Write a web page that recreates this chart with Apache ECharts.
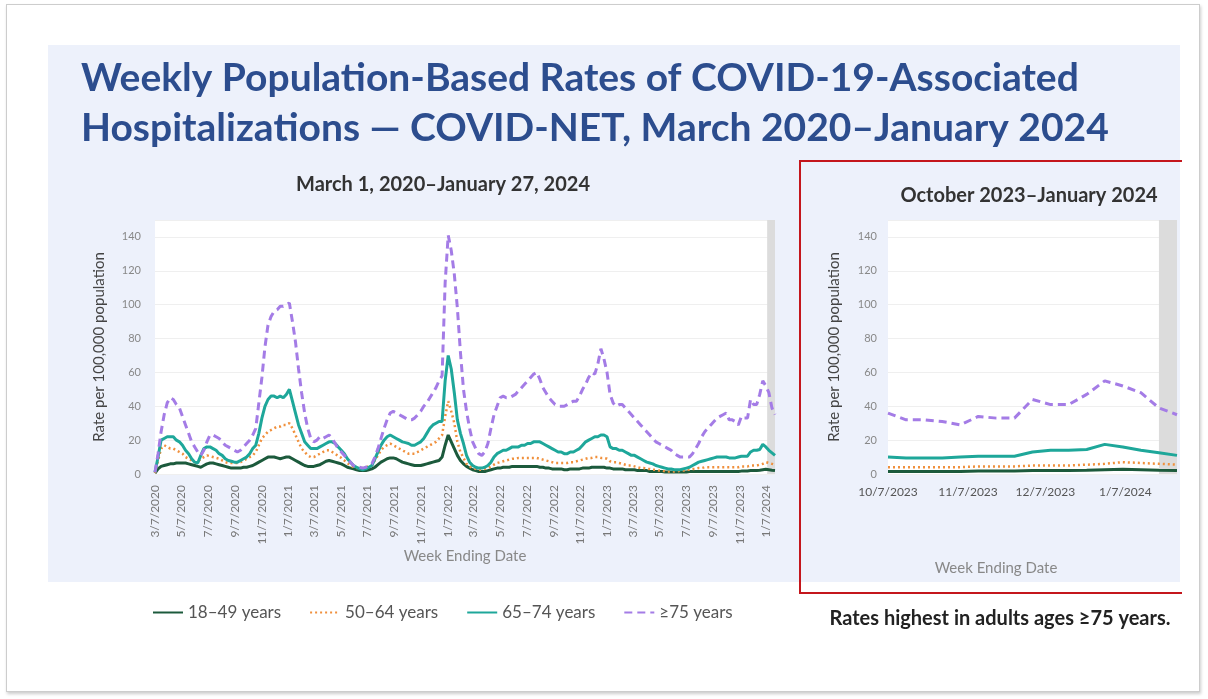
<!DOCTYPE html>
<html>
<head>
<meta charset="utf-8">
<script src="https://cdn.jsdelivr.net/npm/echarts@6/dist/echarts.min.js"></script>
<style>
html, body { margin: 0; padding: 0; background: #fff; }
#frame { position: absolute; left: 6px; top: 4px; width: 1192px; height: 686px; border: 1px solid #cdcdcd; box-shadow: 1px 2px 3px rgba(0,0,0,0.2); }
#panel { position: absolute; left: 48px; top: 45px; width: 1132px; height: 537px; background: #edf1fb; }
#redbox { position: absolute; left: 799px; top: 160px; width: 381px; height: 430px; border: 2.5px solid #c4161c; border-right: none; }
#chart { position: absolute; left: 0; top: 0; width: 1208px; height: 699px; }
</style>
</head>
<body>
<div id="frame"></div>
<div id="panel"></div>
<div id="redbox"></div>
<div id="chart"></div>
<script>
// weekly rates per 100,000, week ending 3/7/2020 ... 1/27/2024 (204 weeks)
var firstWeek = '2020-03-07';
var zoomStart = '2023-10-07';
var names = ['18–49 years', '50–64 years', '65–74 years', '≥75 years'];
var colors = ['#1c5a3c', '#f0903c', '#1ea79a', '#a47ce6'];

var rate18to49 = [
  0.5, 3, 4.5, 5, 5.5, 6, 6, 6.5, 6.5, 6.5,
  6.5, 6, 5.5, 5, 4.5, 4, 5, 6, 6.5, 6.5,
  6, 5.5, 5, 4.5, 4, 3.5, 3.5, 3.5, 3.5, 4,
  4, 4.5, 5, 6, 7, 8, 9, 10, 10, 10,
  9.5, 9, 9.5, 10, 10, 9, 8, 7, 6, 5,
  4.5, 4.5, 4.5, 5, 5.5, 6.5, 7.5, 8, 7.5, 7,
  6.5, 6, 5, 4, 3.5, 3, 2.5, 2, 2, 2,
  2.5, 3, 4, 5.5, 7, 8, 9, 9.5, 9.5, 9,
  8, 7, 6.5, 6, 5.5, 5, 5, 5, 5.5, 6,
  6.5, 7, 7.5, 8, 10, 17, 23, 19, 15, 11,
  8, 6, 4.5, 3.5, 2.5, 2, 1.5, 1.5, 1.5, 2,
  2.5, 3, 3.5, 3.5, 4, 4, 4, 4.5, 4.5, 4.5,
  4.5, 4.5, 4.5, 4.5, 4.5, 4.5, 4, 4, 3.5, 3.5,
  3, 3, 3, 3, 2.5, 2.5, 3, 3, 3, 3,
  3.5, 3.5, 3.5, 4, 4, 4, 4, 4, 3.5, 3.5,
  3, 3, 3, 3, 2.5, 2.5, 2.5, 2.5, 2, 2,
  2, 2, 1.5, 1.5, 1.5, 1.5, 1.5, 1.2, 1.2, 1.2,
  1.2, 1.2, 1.2, 1.2, 1.2, 1.5, 1.5, 1.5, 1.5, 1.5,
  1.5, 1.5, 1.5, 1.5, 1.5, 1.5, 1.5, 1.5, 1.5, 1.5,
  1.5, 1.5, 1.7, 1.7, 1.8, 2, 2, 2, 2.2, 2.5,
  2.8, 2.5, 2.2, 2
];
var rate50to64 = [
  0.5, 8, 15, 17, 16, 15, 15, 14, 13, 12,
  10, 9, 8, 7, 7, 9, 10, 11, 10.5, 10,
  9.5, 9, 8, 7, 6.5, 6.5, 6.5, 6.5, 7, 8,
  9, 10, 11, 13, 17, 21, 23, 25, 26, 27,
  28, 28, 29, 29, 30, 27, 23, 19, 15, 13,
  11, 10, 10, 11, 12, 13, 14, 14, 13, 12,
  10.5, 9.5, 8, 6.5, 5, 4, 3.5, 3.5, 3.5, 4,
  4.5, 5, 8, 11, 14, 16, 17, 18, 17, 16,
  15, 14, 13, 12, 12, 12, 13, 14, 15, 16,
  17, 18, 19, 21, 23, 34, 43, 37, 30, 19,
  13, 9.5, 6, 4.5, 3.5, 3, 2.5, 2.5, 3, 3.5,
  4.5, 5.5, 6.5, 7, 7.5, 8, 8.5, 9, 9, 9.5,
  9.5, 9.5, 9.5, 9.5, 9.5, 9.5, 9, 8.5, 8, 7.5,
  7, 6.5, 6.5, 6.5, 6.5, 6.5, 7, 7, 7.5, 8,
  8.5, 9, 9.5, 9.5, 10, 10, 9.5, 9.5, 9, 7.5,
  7, 7, 6.5, 6, 5.5, 5, 5, 4.5, 4, 3.5,
  3.5, 3, 3, 2.5, 2.5, 2, 2, 1.5, 1.5, 1.5,
  1.5, 1.5, 2, 2, 2.5, 2.5, 3, 3, 3.5, 3.5,
  4, 4, 4, 4, 4, 4, 4, 4, 4, 4,
  4, 4, 4.5, 4.5, 4.5, 5, 5, 5, 5.5, 6,
  7, 6.5, 6, 5.5
];
var rate65to74 = [
  1, 10, 20, 21, 22, 22, 22, 20, 19, 17,
  14, 12, 9, 7, 6.5, 11, 15, 16, 16, 15,
  14, 12, 11, 9, 8, 7.5, 7, 7, 8, 9,
  10, 12, 15, 17, 24, 33, 40, 44, 46, 46,
  45, 46, 45, 47, 50, 43, 36, 29, 24, 19,
  17, 15, 15, 15, 16, 17, 18, 19, 19, 18,
  16, 14, 12, 9, 7, 5, 4, 3, 2.5, 3,
  4, 5, 9, 13, 17, 20, 22, 23, 22, 21,
  20, 19, 18.5, 18, 17, 17, 18, 19, 21, 24,
  27, 29, 30, 31, 31, 55, 70, 62, 48, 32,
  24, 18, 11, 7, 5, 4, 3.5, 3.5, 4, 5,
  7, 10, 12, 13, 14, 14, 15, 16, 16, 16,
  17, 17, 18, 18, 19, 19, 19, 18, 17, 16,
  15, 14, 13, 13, 12, 12, 13, 13, 14, 15,
  17, 19, 20, 21, 22, 22, 23, 23, 22, 16,
  15, 15, 14, 14, 13, 12, 11, 11, 10, 9,
  8, 7, 6.5, 6, 5, 4.5, 4, 3.5, 3, 3,
  2.5, 2.5, 2.5, 3, 3.5, 4, 5, 6, 7, 7.5,
  8, 8.5, 9, 9.5, 10, 10, 10, 10, 9.5, 9.5,
  9.5, 10, 10.5, 10.5, 10.5, 13, 14, 14, 14.5, 17.5,
  16, 14, 12.5, 11
];
var rate75plus = [
  1, 12, 25, 35, 42, 45, 44, 41, 39, 34,
  29, 24, 19, 16, 13, 11, 14, 19, 23, 23,
  22, 21, 19, 17, 16, 15, 14, 13, 14, 16,
  18, 20, 23, 27, 42, 57, 75, 88, 93, 96,
  97, 99, 99, 100, 101, 90, 78, 62, 48, 36,
  27, 21, 19, 20, 22, 21, 22, 23, 21, 18,
  15, 13, 11, 9, 7, 5, 4, 4, 3.5, 4,
  5, 6, 10, 15, 21, 27, 32, 36, 37, 36,
  35, 34, 33, 32, 32, 33, 35, 37, 40, 42,
  45, 48, 51, 55, 58, 113, 141, 132, 118, 98,
  72, 50, 37, 27, 19, 15, 12, 11, 13, 18,
  27, 35, 40, 45, 46, 45, 45, 46, 47, 49,
  51, 53, 55, 57, 59, 60, 56, 51, 48, 45,
  43, 41, 40, 40, 40, 41, 42, 43, 43, 46,
  50, 53, 57, 60, 59, 65, 74, 68, 60, 47,
  42, 40, 41, 41, 39, 37, 35, 33, 31, 29,
  27, 25, 23, 21, 19, 18, 17, 16, 15, 14,
  12, 11, 10, 10, 10, 10, 12, 15, 18, 22,
  25, 27, 29, 31, 33, 34, 35, 36, 32, 32,
  31, 29, 34, 33, 33, 44, 41, 41, 47, 55,
  52, 48, 39, 35
];

// x tick labels
var leftTickDates = [
  '2020-03-07', '2020-05-07', '2020-07-07', '2020-09-07', '2020-11-07',
  '2021-01-07', '2021-03-07', '2021-05-07', '2021-07-07', '2021-09-07', '2021-11-07',
  '2022-01-07', '2022-03-07', '2022-05-07', '2022-07-07', '2022-09-07', '2022-11-07',
  '2023-01-07', '2023-03-07', '2023-05-07', '2023-07-07', '2023-09-07', '2023-11-07',
  '2024-01-07'
];
var rightTickDates = ['2023-10-07', '2023-11-07', '2023-12-07', '2024-01-07'];
var leftShadeFrom = '2024-01-09';
var rightShadeFrom = '2024-01-20';

function ts(s) {
  var p = s.split('-');
  return Date.UTC(+p[0], +p[1] - 1, +p[2]);
}
function fmt(v) {
  var d = new Date(v);
  return (d.getUTCMonth() + 1) + '/' + d.getUTCDate() + '/' + d.getUTCFullYear();
}

var allRates = [rate18to49, rate50to64, rate65to74, rate75plus];
var weekDates = [];
for (var i = 0; i < rate75plus.length; i++) {
  weekDates.push(ts(firstWeek) + i * 7 * 86400000);
}
var lastWeek = weekDates[weekDates.length - 1];
var zoomIdx = weekDates.indexOf(ts(zoomStart));

var FONT = 'Lato';
var lineTypes = ['solid', [2, 3], 'solid', [8, 5]];
var lineWidths = [3, 2.5, 3, 3];

function makeSeries(axisIdx, from, shadeFrom) {
  return allRates.map(function (arr, k) {
    var s = {
      name: names[k],
      type: 'line',
      xAxisIndex: axisIdx,
      yAxisIndex: axisIdx,
      symbol: 'none',
      z: 3 + k,
      lineStyle: { color: colors[k], width: lineWidths[k], type: lineTypes[k] },
      itemStyle: { color: colors[k] },
      data: arr.slice(from).map(function (v, j) { return [weekDates[from + j], v]; })
    };
    if (k === 0) {
      s.markArea = {
        silent: true,
        itemStyle: { color: '#dcdcdc' },
        data: [[{ xAxis: ts(shadeFrom) }, { xAxis: lastWeek }]]
      };
    }
    return s;
  });
}

var yAxisBase = function (gap, margin) {
  return {
    type: 'value',
    min: 0,
    max: 150,
    interval: 20,
    name: 'Rate per 100,000 population',
    nameLocation: 'middle',
    nameGap: gap,
    nameTextStyle: { fontFamily: FONT, fontSize: 15, color: '#444' },
    axisLine: { show: false },
    axisTick: { show: false },
    axisLabel: { fontFamily: FONT, fontSize: 11, color: '#888', margin: margin, showMaxLabel: false },
    splitLine: { lineStyle: { color: '#efefef' } }
  };
};

var chart = echarts.init(document.getElementById('chart'));
chart.setOption({
  backgroundColor: 'transparent',
  animation: false,
  title: [
    {
      text: 'Weekly Population-Based Rates of COVID-19-Associated\nHospitalizations — COVID-NET, March 2020–January 2024',
      left: 81, top: 53, padding: 0,
      textStyle: { fontFamily: FONT, fontWeight: 'bold', fontSize: 39, lineHeight: 50, color: '#2c4d8e' }
    },
    {
      text: 'March 1, 2020–January 27, 2024',
      left: 443, top: 175, padding: 0, textAlign: 'center',
      textStyle: { fontFamily: FONT, fontWeight: 'bold', fontSize: 20, color: '#333' }
    },
    {
      text: 'October 2023–January 2024',
      left: 1029, top: 186, padding: 0, textAlign: 'center',
      textStyle: { fontFamily: FONT, fontWeight: 'bold', fontSize: 20, color: '#333' }
    },
    {
      text: 'Week Ending Date',
      left: 996, top: 561, padding: 0, textAlign: 'center',
      textStyle: { fontFamily: FONT, fontWeight: 'normal', fontSize: 15, color: '#888' }
    },
    {
      text: 'Rates highest in adults ages ≥75 years.',
      left: 1000, top: 609, padding: 0, textAlign: 'center',
      textStyle: { fontFamily: FONT, fontWeight: 'bold', fontSize: 20, color: '#222' }
    }
  ],
  legend: {
    data: names,
    left: 152, top: 604, padding: 0,
    itemWidth: 30, itemHeight: 14, itemGap: 28,
    itemStyle: { opacity: 0 },
    textStyle: { fontFamily: FONT, fontSize: 17, color: '#555' }
  },
  grid: [
    { left: 155, right: 433, top: 220, bottom: 225, show: true, backgroundColor: '#fff', borderWidth: 0 },
    { left: 888, right: 31, top: 220, bottom: 225, show: true, backgroundColor: '#fff', borderWidth: 0 }
  ],
  xAxis: [
    {
      type: 'value', gridIndex: 0,
      min: weekDates[0], max: lastWeek,
      name: 'Week Ending Date', nameLocation: 'middle', nameGap: 73,
      nameTextStyle: { fontFamily: FONT, fontSize: 15, color: '#888' },
      axisLine: { show: false }, axisTick: { show: false }, splitLine: { show: false },
      axisLabel: {
        customValues: leftTickDates.map(ts),
        formatter: fmt, rotate: 90, margin: 11,
        fontFamily: FONT, fontSize: 12, color: '#777'
      }
    },
    {
      type: 'value', gridIndex: 1,
      min: weekDates[zoomIdx], max: lastWeek,
      axisLine: { show: false }, axisTick: { show: false }, splitLine: { show: false },
      axisLabel: {
        customValues: rightTickDates.map(ts),
        formatter: fmt, margin: 12,
        fontFamily: FONT, fontSize: 12, color: '#555'
      }
    }
  ],
  yAxis: [
    Object.assign(yAxisBase(48, 14), { gridIndex: 0 }),
    Object.assign(yAxisBase(46, 11), { gridIndex: 1 })
  ],
  series: makeSeries(0, 0, leftShadeFrom).concat(makeSeries(1, zoomIdx, rightShadeFrom))
});
</script>
</body>
</html>
